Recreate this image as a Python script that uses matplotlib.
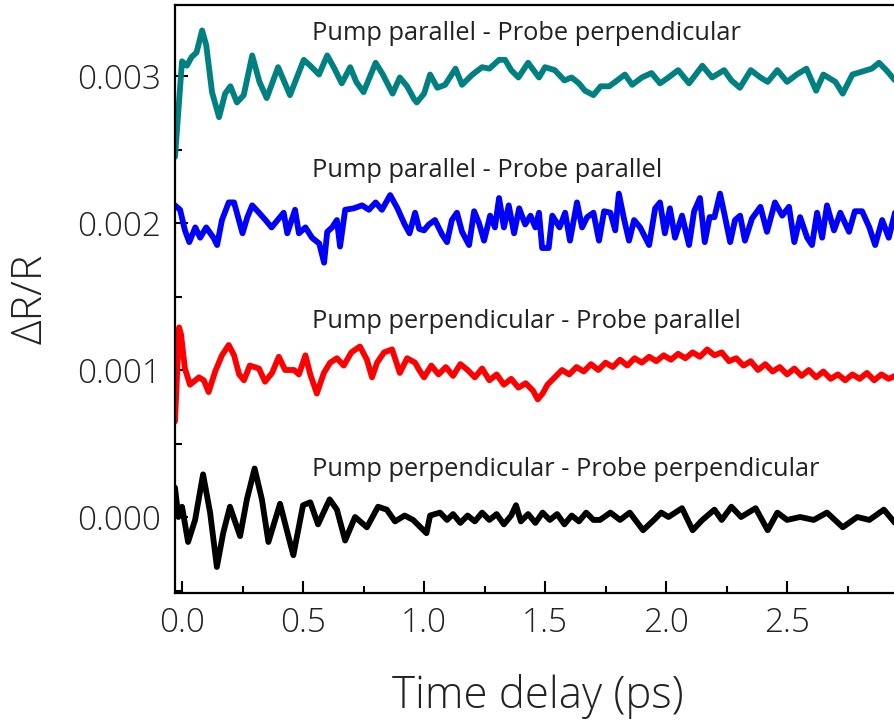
import matplotlib
matplotlib.use("Agg")
import matplotlib.pyplot as plt
from matplotlib.ticker import MultipleLocator, FormatStrFormatter

plt.rcParams['font.family'] = ['Open Sans', 'DejaVu Sans']

# values in units of 1e-3 (dR/R x 1000)
scale = 1e-3

t_teal = [-0.029, 0.0, 0.02, 0.04, 0.06, 0.083, 0.10, 0.124, 0.153, 0.178, 0.20, 0.227, 0.255, 0.29, 0.32, 0.35,
          0.397, 0.446, 0.503, 0.53, 0.566, 0.60, 0.63, 0.66, 0.695, 0.72, 0.75, 0.80, 0.83, 0.87, 0.90, 0.93,
          0.96, 0.97, 1.0, 1.025, 1.055, 1.087, 1.13, 1.157, 1.2, 1.24, 1.27, 1.31, 1.335, 1.36, 1.39, 1.43,
          1.475, 1.50, 1.54, 1.58, 1.61, 1.64, 1.665, 1.70, 1.73, 1.765, 1.79, 1.83, 1.86, 1.90, 1.94, 1.975,
          2.01, 2.05, 2.095, 2.15, 2.19, 2.24, 2.27, 2.305, 2.35, 2.39, 2.42, 2.46, 2.50, 2.54, 2.58, 2.62,
          2.65, 2.70, 2.73, 2.77, 2.81, 2.85, 2.88, 2.91, 2.946]
v_teal = [2.45, 3.10, 3.07, 3.13, 3.16, 3.31, 3.21, 2.89, 2.72, 2.88, 2.93, 2.82, 2.87, 3.14, 2.96, 2.85,
          3.06, 2.87, 3.11, 3.07, 3.01, 3.14, 3.05, 2.95, 3.06, 2.96, 2.89, 3.09, 3.01, 2.88, 2.99, 2.93,
          2.84, 2.82, 2.88, 3.01, 2.92, 2.94, 3.05, 2.94, 3.01, 3.06, 3.05, 3.11, 3.11, 3.04, 2.99, 3.09,
          2.99, 3.06, 3.04, 2.97, 2.99, 2.95, 2.90, 2.87, 2.93, 2.93, 2.96, 3.01, 2.94, 2.99, 3.02, 2.95,
          2.99, 3.04, 2.95, 3.07, 2.99, 3.04, 2.97, 2.92, 3.04, 2.99, 2.96, 3.04, 2.96, 3.01, 3.05, 2.90,
          3.01, 2.96, 2.88, 3.01, 3.03, 3.05, 3.09, 3.04, 2.97]

t_blue = [-0.029, -0.008, 0.012, 0.03, 0.055, 0.075, 0.10, 0.13, 0.145, 0.165, 0.193, 0.215, 0.235, 0.25,
          0.27, 0.29, 0.318, 0.345, 0.37, 0.40, 0.42, 0.435, 0.467, 0.483, 0.51, 0.537, 0.567, 0.587, 0.60,
          0.62, 0.64, 0.653, 0.674, 0.71, 0.744, 0.772, 0.80, 0.826, 0.86, 0.89, 0.92, 0.94, 0.963,
          0.98, 1.0, 1.02, 1.045, 1.075, 1.095, 1.115, 1.136, 1.157, 1.186, 1.207, 1.227, 1.248, 1.273,
          1.293, 1.31, 1.33, 1.35, 1.372, 1.393, 1.418, 1.44, 1.46, 1.475, 1.488, 1.515, 1.53, 1.56, 1.583,
          1.603, 1.632, 1.653, 1.674, 1.70, 1.723, 1.744, 1.77, 1.79, 1.805, 1.826, 1.847, 1.868, 1.893,
          1.93, 1.955, 1.975, 1.995, 2.016, 2.037, 2.066, 2.095, 2.116, 2.14, 2.16, 2.18, 2.20, 2.223,
          2.24, 2.265, 2.285, 2.306, 2.326, 2.355, 2.39, 2.417, 2.45, 2.48, 2.508, 2.53, 2.554, 2.583,
          2.603, 2.624, 2.645, 2.665, 2.694, 2.72, 2.756, 2.78, 2.81, 2.84, 2.864, 2.893, 2.92, 2.946]
v_blue = [2.12, 2.09, 1.95, 1.87, 1.97, 1.90, 1.97, 1.90, 1.85, 2.02, 2.14, 2.14, 2.02, 1.93,
          2.04, 2.12, 2.07, 2.02, 1.97, 2.03, 2.07, 1.93, 2.09, 1.93, 1.97, 1.90, 1.86, 1.73, 1.94,
          1.97, 2.02, 1.84, 2.09, 2.10, 2.12, 2.09, 2.14, 2.09, 2.19, 2.10, 1.99, 1.93, 2.07,
          1.96, 1.95, 1.99, 2.02, 1.92, 1.87, 2.02, 2.07, 1.94, 1.85, 2.08, 2.00, 1.88, 2.05,
          1.97, 2.17, 1.97, 2.12, 1.93, 2.10, 1.99, 2.05, 1.97, 2.07, 1.83, 1.83, 2.05, 1.97, 2.07,
          1.88, 2.14, 1.97, 2.04, 2.07, 1.88, 2.08, 2.07, 1.95, 2.20, 2.03, 1.88, 2.02, 1.97,
          1.85, 2.10, 2.14, 1.93, 2.10, 1.90, 2.05, 1.85, 2.08, 2.17, 1.87, 2.04, 2.04, 2.20,
          2.07, 1.87, 2.02, 2.05, 1.88, 2.03, 2.11, 1.94, 2.14, 2.05, 2.11, 1.87, 2.04, 1.90,
          1.85, 2.07, 1.90, 2.12, 1.95, 2.07, 1.94, 2.08, 2.08, 1.97, 1.85, 2.02, 1.90, 2.07]

t_red = [-0.029, -0.012, -0.004, 0.012, 0.033, 0.07, 0.09, 0.11, 0.137, 0.165, 0.193, 0.215, 0.236, 0.256,
         0.28, 0.318, 0.343, 0.372, 0.40, 0.426, 0.463, 0.483, 0.51, 0.53, 0.557, 0.586, 0.612, 0.64, 0.668,
         0.70, 0.735, 0.764, 0.785, 0.806, 0.835, 0.868, 0.90, 0.93, 0.963,
         0.98, 1.0, 1.03, 1.06, 1.09, 1.12, 1.15, 1.18, 1.21, 1.24, 1.27, 1.30, 1.33, 1.36, 1.39, 1.42,
         1.45, 1.47, 1.49, 1.51, 1.54, 1.57, 1.60, 1.63, 1.66, 1.69, 1.72, 1.75, 1.78, 1.81, 1.84, 1.87,
         1.90, 1.93, 1.96, 1.99, 2.02, 2.05, 2.08, 2.11, 2.14, 2.17, 2.20, 2.23, 2.26, 2.29, 2.32, 2.35,
         2.38, 2.41, 2.44, 2.47, 2.50, 2.53, 2.56, 2.59, 2.62, 2.65, 2.68, 2.71, 2.74, 2.77, 2.80, 2.83,
         2.86, 2.89, 2.92, 2.946]
v_red = [0.65, 1.29, 1.24, 1.01, 0.90, 0.95, 0.93, 0.85, 0.99, 1.10, 1.17, 1.10, 0.97, 0.93,
         1.03, 1.01, 0.92, 0.98, 1.09, 1.00, 1.00, 0.97, 1.10, 0.97, 0.84, 0.98, 1.05, 1.08, 1.03,
         1.12, 1.16, 1.07, 0.95, 1.05, 1.12, 1.14, 0.98, 1.08, 1.05,
         1.00, 0.95, 1.03, 0.97, 1.02, 0.96, 1.04, 1.00, 0.95, 1.01, 0.93, 0.97, 0.90, 0.94, 0.88, 0.91,
         0.86, 0.80, 0.84, 0.90, 0.95, 1.00, 0.97, 1.02, 0.99, 1.04, 1.00, 1.05, 1.02, 1.07, 1.03, 1.08,
         1.05, 1.09, 1.06, 1.10, 1.07, 1.11, 1.08, 1.12, 1.09, 1.14, 1.10, 1.12, 1.06, 1.08, 1.03, 1.06,
         1.00, 1.04, 0.99, 1.02, 0.97, 1.01, 0.96, 1.00, 0.95, 0.99, 0.94, 0.97, 0.93, 0.97, 0.94, 0.98,
         0.93, 0.97, 0.94, 0.96]

t_black = [-0.029, -0.015, 0.0, 0.025, 0.054, 0.087, 0.116, 0.144, 0.17, 0.198, 0.24, 0.268, 0.30, 0.33,
           0.357, 0.405, 0.433, 0.46, 0.50, 0.53, 0.562, 0.61, 0.64, 0.674, 0.715, 0.764, 0.81, 0.846,
           0.88, 0.92, 0.955, 1.01, 1.025, 1.066, 1.095,
           1.12, 1.15, 1.18, 1.21, 1.24, 1.27, 1.30, 1.33, 1.36, 1.38, 1.40, 1.43, 1.46, 1.49, 1.52, 1.55,
           1.58, 1.61, 1.64, 1.67, 1.70, 1.727, 1.77, 1.81, 1.85, 1.905, 1.95, 1.98, 2.01, 2.066, 2.11,
           2.15, 2.20, 2.23, 2.27, 2.31, 2.37, 2.42, 2.46, 2.50, 2.554, 2.61, 2.665, 2.73, 2.79, 2.84,
           2.90, 2.946]
v_black = [0.20, 0.00, 0.07, -0.17, -0.02, 0.29, 0.03, -0.34, -0.11, 0.07, -0.13, 0.12, 0.33, 0.12,
           -0.17, 0.09, -0.09, -0.26, 0.08, 0.10, -0.05, 0.12, 0.05, -0.16, 0.00, -0.07, 0.07, 0.05,
           -0.03, 0.01, -0.02, -0.11, 0.01, 0.03, -0.02,
           0.02, -0.04, 0.01, -0.03, 0.03, -0.02, 0.02, -0.05, 0.01, 0.08, -0.03, 0.02, -0.04, 0.03, -0.02, 0.02,
           -0.05, 0.01, -0.03, 0.03, -0.02, -0.02, 0.03, -0.02, 0.03, -0.09, -0.02, 0.03, 0.00, 0.06, -0.09,
           -0.02, 0.05, -0.02, 0.07, 0.00, 0.06, -0.09, 0.03, -0.02, 0.00, -0.02, 0.03, -0.07, 0.00, -0.02,
           0.05, -0.04]

labels = ["Pump parallel - Probe perpendicular", "Pump parallel - Probe parallel",
          "Pump perpendicular - Probe parallel", "Pump perpendicular - Probe perpendicular"]
label_y = [0.00329, 0.00236, 0.001327, 0.00032]
colors = ["#008080", "#0000FF", "#FF0000", "#000000"]

fig = plt.figure(figsize=(8.95, 7.21), dpi=100)
ax = fig.add_axes([175/895, (721-593)/721, (895-175)/895, (593-5)/721])

series = [(t_teal, v_teal), (t_blue, v_blue), (t_red, v_red), (t_black, v_black)]
for (t, v), c in zip(series, colors):
    ax.plot(t, [x*scale for x in v], color=c, lw=4.2, solid_joinstyle='round', solid_capstyle='round')

for lab, y in zip(labels, label_y):
    ax.text(0.537, y, lab, fontsize=18.3, color='#222222', ha='left', va='center')

ax.set_xlim(-0.029, 2.946)
ax.set_ylim(-0.000517, 0.003483)
ax.xaxis.set_major_locator(MultipleLocator(0.5))
ax.xaxis.set_minor_locator(MultipleLocator(0.25))
ax.yaxis.set_major_locator(MultipleLocator(0.001))
ax.yaxis.set_minor_locator(MultipleLocator(0.0005))
ax.xaxis.set_major_formatter(FormatStrFormatter('%.1f'))
ax.yaxis.set_major_formatter(FormatStrFormatter('%.3f'))
ax.tick_params(axis='both', which='major', direction='in', length=9, width=1.5, labelsize=24,
               labelcolor='#222222', pad=10, top=False, right=False)
ax.tick_params(axis='both', which='minor', direction='in', length=5, width=1.5, top=False, right=False)
for lbl in ax.get_xticklabels() + ax.get_yticklabels():
    lbl.set_fontweight('light')
ax.spines['right'].set_visible(False)
for s in ['left', 'bottom', 'top']:
    ax.spines[s].set_linewidth(1.6)

ax.set_xlabel('Time delay (ps)', fontsize=31.5, color='#222222', fontweight='light')
ax.xaxis.set_label_coords(0.5035, -0.138)
ax.set_ylabel('ΔR/R', fontsize=31, color='#222222', fontweight='light')
ax.yaxis.set_label_coords(-0.171, 0.501)

fig.savefig('out.png', dpi=100)
